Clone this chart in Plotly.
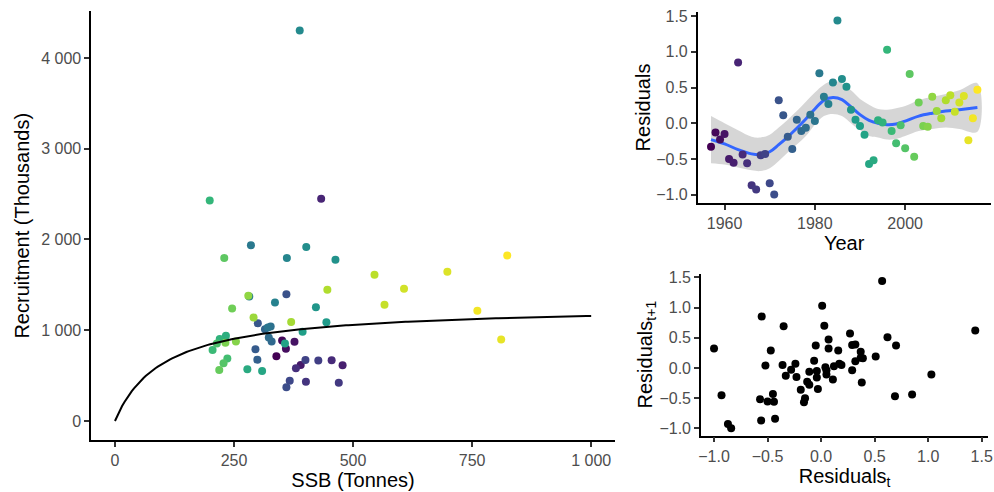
import numpy as np
import plotly.graph_objects as go

# ---------------- data ----------------
years = list(range(1957, 2017))
residuals = [-0.33, -0.13, -0.23, -0.15, -0.50, -0.555, 0.85, -0.44, -0.56, -0.87,
             -0.93, -0.45, -0.43, -0.84, -1.00, 0.32, 0.11, -0.19, -0.36, 0.05,
             -0.11, -0.065, 0.12, 0.03, 0.70, 0.37, 0.27, 0.57, 1.44, 0.62,
             0.51, 0.19, 0.05, -0.04, -0.16, -0.57, -0.52, 0.04, 0.01, 1.03,
             -0.11, -0.28, -0.03, -0.35, 0.69, -0.47, 0.29, -0.04, -0.05, 0.37,
             0.17, 0.07, 0.32, 0.39, 0.16, 0.29, 0.38, -0.24, 0.07, 0.47]
ssb = [339, 351, 359, 377, 390, 478, 433, 455, 380, 401,
       470, 427, 400, 367, 360, 360, 300, 295, 299, 315,
       329, 323, 327, 321, 285.5, 282, 336, 361, 388, 401.7,
       463, 422, 444, 394, 357, 309, 278, 233, 220, 199,
       205, 236, 214, 228, 229.5, 219, 246, 232, 254, 280,
       291, 370, 446, 545, 566, 607, 698, 811, 761, 823.7]
recruitment = [714, 887, 796, 874, 617, 615, 2449, 668, 582, 432,
               422, 666, 673, 443, 372, 1395, 1076, 791, 675, 1010,
               877, 921, 1042, 1030, 1935, 1372, 1305, 1795, 4302, 1916,
               1777, 1252, 1089, 984, 855, 551, 571, 940, 903, 2430,
               782, 688, 855, 637, 1795, 562, 1239, 862, 877, 1380,
               1140, 1091, 1446, 1612, 1281, 1457, 1645, 899, 1215, 1824]

# Beverton-Holt stock-recruitment fit (parameters)
bh_a = 1275.0
bh_b = 101.6
bh_ssb = np.linspace(0, 1000, 201)

# loess smooth of residuals and its confidence band
smooth_years = [1957, 1960, 1963, 1966, 1968, 1970, 1972, 1974, 1976, 1978, 1980, 1982, 1984,
                1986, 1988, 1990, 1992, 1994, 1996, 1998, 2000, 2003, 2006, 2009, 2012, 2016]
smooth_fit = [-0.23, -0.29, -0.37, -0.43, -0.44, -0.40, -0.30, -0.19, -0.07, 0.06, 0.20, 0.32, 0.36,
              0.33, 0.23, 0.12, 0.04, 0.0, -0.02, -0.01, 0.03, 0.10, 0.14, 0.17, 0.19, 0.22]
smooth_upper = [0.10, 0.0, -0.10, -0.19, -0.20, -0.16, -0.06, 0.05, 0.17, 0.30, 0.43, 0.54, 0.59,
                0.56, 0.46, 0.34, 0.26, 0.20, 0.19, 0.21, 0.24, 0.32, 0.37, 0.41, 0.46, 0.56]
smooth_lower = [-0.56, -0.58, -0.62, -0.66, -0.67, -0.63, -0.53, -0.41, -0.30, -0.18, -0.02, 0.10, 0.13,
                0.10, 0.00, -0.10, -0.18, -0.20, -0.23, -0.22, -0.18, -0.11, -0.08, -0.06, -0.08, -0.12]

ssb_ticks = [0, 250, 500, 750, 1000]
ssb_ticktext = ["0", "250", "500", "750", "1 000"]
rec_ticks = [0, 1000, 2000, 3000, 4000]
rec_ticktext = ["0", "1 000", "2 000", "3 000", "4 000"]
year_ticks = [1960, 1980, 2000]
res_ticks = [-1.0, -0.5, 0.0, 0.5, 1.0, 1.5]
res_ticktext = ["\u22121.0", "\u22120.5", "0.0", "0.5", "1.0", "1.5"]

# ---------------- figure ----------------
FONT = "Liberation Sans, Arial, sans-serif"
TICKCOL = "#4D4D4D"
marker_common = dict(color=years, colorscale="Viridis", cmin=min(years), cmax=max(years),
                     size=8, line=dict(width=0), showscale=False)

fig = go.Figure()

# left: stock-recruitment
fig.add_trace(go.Scatter(x=ssb, y=recruitment, mode="markers", marker=marker_common,
                         xaxis="x", yaxis="y", showlegend=False, hoverinfo="skip"))
fig.add_trace(go.Scatter(x=bh_ssb, y=bh_a * bh_ssb / (bh_b + bh_ssb), mode="lines",
                         line=dict(color="black", width=2), xaxis="x", yaxis="y",
                         showlegend=False, hoverinfo="skip"))

# top right: residuals by year with smooth
fig.add_trace(go.Scatter(x=smooth_years + smooth_years[::-1],
                         y=smooth_upper + smooth_lower[::-1],
                         fill="toself", fillcolor="rgba(153,153,153,0.4)",
                         line=dict(width=0, shape="spline"), mode="lines",
                         xaxis="x2", yaxis="y2", showlegend=False, hoverinfo="skip"))
fig.add_trace(go.Scatter(x=smooth_years, y=smooth_fit, mode="lines",
                         line=dict(color="#3366FF", width=3, shape="spline"),
                         xaxis="x2", yaxis="y2", showlegend=False, hoverinfo="skip"))
fig.add_trace(go.Scatter(x=years, y=residuals, mode="markers", marker=marker_common,
                         xaxis="x2", yaxis="y2", showlegend=False, hoverinfo="skip"))

# bottom right: lag plot
fig.add_trace(go.Scatter(x=residuals[:-1], y=residuals[1:], mode="markers",
                         marker=dict(color="black", size=8),
                         xaxis="x3", yaxis="y3", showlegend=False, hoverinfo="skip"))

axis_common = dict(showline=True, linecolor="black", linewidth=1.5, ticks="outside",
                   ticklen=5, tickwidth=1.5, tickcolor="#333333", showgrid=False,
                   zeroline=False, tickfont=dict(family=FONT, size=16, color=TICKCOL),
                   automargin=False)
title_font = dict(family=FONT, size=20, color="black")

fig.update_layout(
    width=994, height=492,
    margin=dict(l=0, r=0, t=0, b=0),
    paper_bgcolor="white", plot_bgcolor="white",
    font=dict(family=FONT),
    xaxis=dict(axis_common, domain=[0.0917, 0.6187], range=[-50, 1050],
               tickvals=ssb_ticks, ticktext=ssb_ticktext,
               title=dict(text="SSB (Tonnes)", font=title_font, standoff=4), anchor="y"),
    yaxis=dict(axis_common, domain=[0.1047, 0.9776], range=[-215, 4517],
               tickvals=rec_ticks, ticktext=rec_ticktext,
               title=dict(text="Recruitment (Thousands)", font=title_font, standoff=6), anchor="x"),
    xaxis2=dict(axis_common, domain=[0.7019, 0.9967], range=[1954.05, 2018.95],
                tickvals=year_ticks,
                title=dict(text="Year", font=title_font, standoff=4), anchor="y2"),
    yaxis2=dict(axis_common, domain=[0.5868, 0.9762], range=[-1.122, 1.562],
                tickvals=res_ticks, ticktext=res_ticktext,
                title=dict(text="Residuals", font=title_font, standoff=0), anchor="x2"),
    xaxis3=dict(axis_common, domain=[0.7052, 0.9943], range=[-1.122, 1.562],
                tickvals=res_ticks, ticktext=res_ticktext,
                title=dict(text="Residuals<sub>t</sub>", font=title_font, standoff=4), anchor="y3"),
    yaxis3=dict(axis_common, domain=[0.1144, 0.4439], range=[-1.122, 1.562],
                tickvals=res_ticks, ticktext=res_ticktext,
                title=dict(text="Residuals<sub>t+1</sub>", font=title_font, standoff=0), anchor="x3"),
)

fig.write_html(
    "out.html",
    config={"displayModeBar": False},
    post_script="document.documentElement.style.margin='0';document.body.style.margin='0';"
                "document.body.style.overflow='hidden';",
)
